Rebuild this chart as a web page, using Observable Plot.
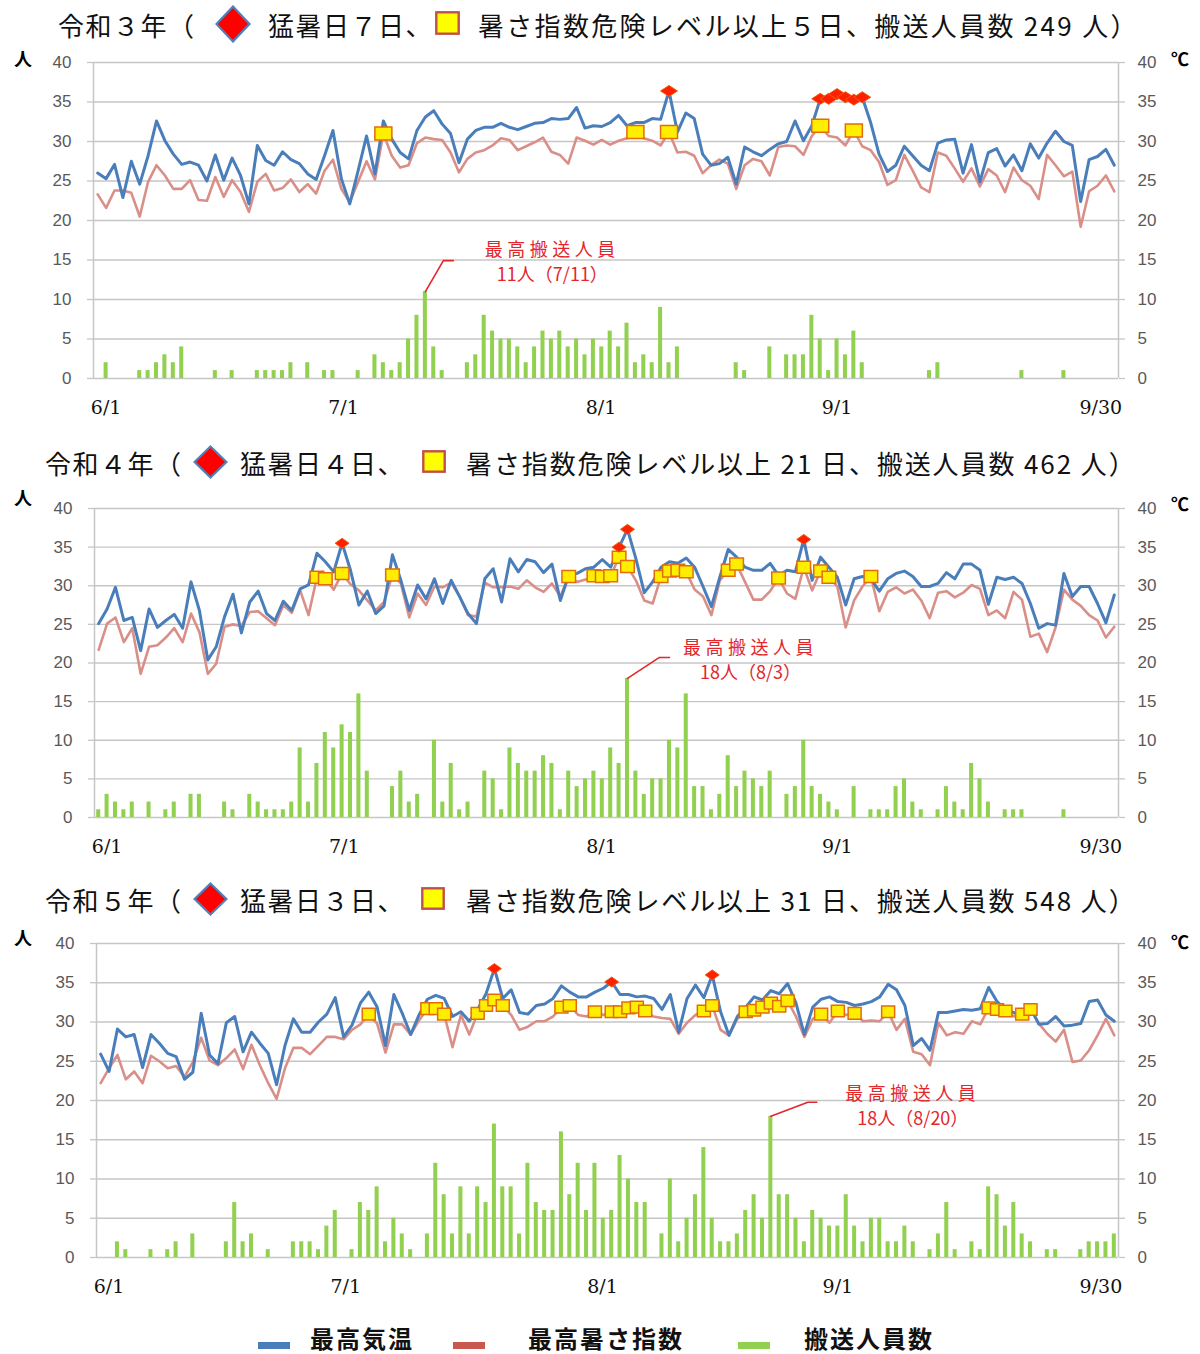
<!DOCTYPE html>
<html><head><meta charset="utf-8">
<script src="https://cdn.jsdelivr.net/npm/d3@7"></script>
<script src="https://cdn.jsdelivr.net/npm/@observablehq/plot@0.6"></script>
<style>
body{margin:0;background:#fff;}
#root{position:relative;width:1200px;height:1354px;overflow:hidden;font-family:"Noto Sans CJK JP",sans-serif;background:#fff;}
.abs{position:absolute;white-space:nowrap;line-height:1;}
.ttl{font-size:26px;letter-spacing:1.5px;color:#111;}
.unit{font-size:18px;font-weight:700;color:#000;}
.leg{font-size:24px;font-weight:700;color:#111;}
.sw{position:absolute;width:32px;height:7px;}
svg.chart{position:absolute;left:0;}
</style></head><body><div id="root"></div>
<script>
// ---------- data ----------
const days = d3.range(122); // 6/1 .. 9/30
const yTicks = [0,5,10,15,20,25,30,35,40];
const xTickLabels = ["6/1","7/1","8/1","9/1","9/30"];
const xTickPos = [1, 29.25, 59.9, 88, 119.4];

// 令和3年
const temp3 = [26.0,25.3,27.1,22.9,27.5,24.6,28.2,32.6,30.1,28.4,
27.1,27.4,27.0,25.0,28.3,25.1,27.9,25.7,22.1,29.5,
27.6,27.0,28.7,27.7,27.2,25.9,25.2,28.2,31.4,25.3,
22.1,26.3,30.7,25.9,32.6,30.3,28.6,27.8,31.4,33.1,
33.9,32.2,31.0,27.3,30.3,31.4,31.8,31.8,32.3,31.8,
31.5,31.9,32.3,32.4,32.9,32.8,32.9,34.3,31.7,32.0,
31.9,32.4,33.3,32.0,32.4,32.4,32.9,32.8,36.4,31.2,
33.6,32.9,28.4,27.0,27.2,28.0,24.6,29.3,28.7,28.2,
29.0,29.7,30.0,32.6,30.1,32.0,35.4,35.4,36.0,35.6,
35.3,35.6,32.4,28.4,26.2,27.0,29.4,28.2,27.0,26.3,
29.8,30.2,30.3,26.0,29.6,24.9,28.6,29.1,26.9,28.3,
26.3,29.7,27.9,29.8,31.3,30.0,29.5,22.4,27.7,28.1,
29.0,27.0];
const wbgt3 = [23.3,21.6,23.8,23.8,23.5,20.5,24.9,27.0,25.7,24.0,
24.0,25.1,22.6,22.5,25.5,23.0,25.1,23.6,21.1,24.9,
25.9,23.8,24.1,25.2,23.6,24.6,23.4,26.3,27.7,24.0,
22.3,24.9,27.5,25.2,31.0,28.2,26.7,27.0,29.8,30.5,
30.3,30.2,28.6,26.1,27.8,28.6,28.9,29.5,30.4,30.2,
28.9,29.4,29.9,30.5,28.7,28.3,27.2,30.5,30.1,29.6,
30.2,29.6,30.1,30.4,31.2,30.4,30.1,29.5,31.2,28.6,
28.7,28.2,26.0,27.0,27.7,27.2,24.0,27.0,27.8,27.5,
25.7,29.3,29.5,29.4,28.3,30.7,32.0,30.7,30.5,29.5,
31.4,29.4,28.9,27.4,24.5,25.1,28.3,26.3,24.2,23.6,
28.6,28.2,26.6,24.9,26.6,24.3,26.5,25.7,23.6,26.7,
25.1,24.4,22.7,28.3,27.0,25.6,26.2,19.2,23.7,24.4,
25.7,23.7];
const count3 = [0,2,0,0,0,1,1,2,3,2,
4,0,0,0,1,0,1,0,0,1,
1,1,1,2,0,2,0,1,1,0,
0,1,0,3,2,1,2,5,8,11,
4,1,0,0,2,3,8,6,5,5,
4,2,4,6,5,6,4,5,3,5,
4,6,4,7,2,3,2,9,2,4,
0,0,0,0,0,0,2,1,0,0,
4,0,3,3,3,8,5,1,5,3,
6,2,0,0,0,0,0,0,0,1,
2,0,0,0,0,0,0,0,0,0,
1,0,0,0,0,1,0,0,0,0,
0,0];
const hotDays3 = [68,86,87,88,89,90,91];
const dangerDays3 = [34,64,68,86,90];

// 令和4年
const temp4 = [25.1,27.0,29.8,25.5,25.9,21.6,27.0,24.6,25.5,26.3,
24.5,30.5,26.8,20.4,22.1,26.0,28.9,23.9,27.9,29.3,
26.4,25.5,28.0,26.8,29.6,30.1,34.2,33.1,31.8,35.5,
32.0,27.5,29.3,26.4,27.4,34.0,30.7,26.8,30.1,28.3,
30.9,27.7,30.7,28.6,26.4,25.1,30.9,32.2,27.9,33.5,
31.8,33.4,33.1,31.7,32.8,28.1,31.4,31.6,32.2,32.4,
33.4,32.4,35.0,37.3,33.5,29.1,30.5,32.4,33.1,32.9,
33.6,32.4,29.9,27.3,31.1,34.7,33.7,32.4,32.0,32.0,
32.9,31.3,32.0,31.8,36.0,30.7,33.7,32.4,31.1,27.5,
30.9,31.2,30.9,29.3,30.9,31.6,31.9,31.2,29.9,29.9,
30.3,31.7,30.9,32.8,32.8,32.0,27.6,31.1,30.8,31.1,
30.3,27.7,24.5,25.1,24.9,31.6,28.6,29.9,29.9,27.7,
25.2,28.8];
const wbgt4 = [21.7,25.1,25.9,22.7,24.5,18.6,22.1,22.3,23.3,24.5,
22.7,26.4,24.0,18.6,19.9,24.7,25.0,24.8,26.6,26.7,
25.8,24.9,27.5,26.5,29.4,26.2,31.1,30.9,29.5,31.6,
30.2,29.4,28.1,26.8,27.9,31.4,30.3,25.9,29.0,27.5,
29.9,29.8,30.4,28.6,26.2,26.0,30.4,29.8,29.8,29.9,
29.6,30.7,29.8,29.2,30.3,28.6,31.2,30.5,30.8,31.3,
31.2,31.3,33.7,32.5,30.7,28.1,27.7,31.2,31.9,32.0,
31.8,29.5,28.6,26.2,30.7,32.0,32.8,30.5,28.2,28.2,
29.3,31.0,29.0,28.3,32.4,29.4,31.9,31.1,29.9,24.6,
28.1,29.9,31.2,26.7,29.2,29.8,29.0,29.5,28.1,25.8,
29.1,29.3,28.5,29.1,30.1,29.6,26.2,26.8,25.8,29.2,
28.2,23.4,23.8,21.4,24.6,29.5,28.2,27.4,26.2,25.5,
23.3,24.7];
const count4 = [1,3,2,1,2,0,2,0,1,2,
0,3,3,0,0,2,1,0,3,2,
1,1,1,2,9,2,7,11,9,12,
11,16,6,0,0,4,6,2,3,0,
10,2,7,1,2,0,6,5,1,9,
7,6,6,8,7,1,6,4,5,6,
5,9,7,18,6,3,5,5,10,9,
16,4,4,1,3,8,4,6,5,4,
6,0,3,4,10,4,3,2,1,0,
4,0,1,1,1,4,5,2,1,0,
1,4,2,1,7,5,2,0,1,1,
1,0,0,0,0,1,0,0,0,0,
0,0];
const hotDays4 = [29,62,63,84];
const dangerDays4 = [26,27,29,35,56,59,60,61,62,63,67,68,69,70,75,76,81,84,86,87,92];

// 令和5年
const temp5 = [25.9,23.7,29.1,28.1,28.4,24.2,28.4,27.3,26.0,25.6,
22.7,23.6,31.1,25.8,24.7,29.9,30.7,26.2,28.7,27.3,
26.0,22.0,27.0,30.4,28.7,28.7,30.0,31.0,33.1,28.1,
29.6,32.4,33.8,31.9,27.0,33.5,31.1,28.4,30.9,32.9,
33.4,33.0,30.7,31.3,30.1,31.6,33.6,36.8,33.0,34.1,
31.2,31.0,32.1,32.3,33.0,34.6,33.8,33.2,33.2,33.8,
34.3,35.1,33.5,33.5,33.2,33.3,33.0,31.6,33.5,28.7,
33.0,34.7,33.1,36.0,31.3,28.3,30.7,31.9,33.2,32.8,
34.0,33.6,34.9,32.4,28.4,31.9,32.9,33.2,32.6,32.5,
32.1,32.3,32.6,33.2,34.8,34.1,32.1,27.0,27.9,26.4,
31.2,31.2,31.4,31.6,31.5,31.7,34.4,32.6,31.6,31.2,
30.7,31.8,29.7,29.8,30.7,29.5,29.6,29.8,32.6,32.8,
30.9,30.1];
const wbgt5 = [22.2,24.1,25.8,22.7,23.7,22.2,25.7,25.0,24.1,24.4,
23.0,24.9,28.0,25.1,24.5,25.4,26.5,24.0,27.1,24.5,
22.2,20.2,24.1,26.7,26.7,25.9,27.0,28.1,28.1,27.8,
29.0,29.7,31.0,29.8,26.1,29.7,29.7,28.4,30.2,31.7,
31.7,31.0,26.8,30.9,28.4,31.1,32.1,32.8,32.1,30.9,
29.0,29.4,30.1,30.1,30.7,31.9,32.1,30.9,30.7,31.3,
30.9,31.3,31.3,31.8,31.9,31.4,30.7,30.5,30.4,28.5,
29.9,30.9,31.4,32.1,29.0,28.3,30.4,31.3,31.5,31.9,
32.4,32.0,32.7,30.7,28.1,30.4,31.0,29.9,31.4,30.9,
31.1,30.1,30.2,30.1,31.3,29.0,30.4,26.2,25.9,24.5,
29.9,28.3,28.7,28.5,30.1,29.7,31.8,31.6,31.4,30.7,
31.0,31.6,29.8,28.5,27.5,29.0,24.9,25.1,26.4,28.3,
30.4,28.3];
const count5 = [0,0,2,1,0,0,1,0,1,2,
0,3,0,0,0,2,7,2,3,0,
1,0,0,2,2,2,1,4,6,0,
1,7,6,9,2,5,3,1,0,3,
12,8,3,9,3,9,7,17,9,9,
3,12,7,6,6,16,8,12,6,12,
5,6,13,10,7,7,0,3,10,2,
5,8,14,5,2,2,3,6,8,5,
18,8,8,5,2,6,5,4,4,8,
4,2,5,5,2,2,4,2,0,1,
3,7,1,0,2,1,9,8,4,7,
3,2,0,1,1,0,0,1,2,2,
2,3];
const hotDays5 = [47,61,73];
const dangerDays5 = [32,39,40,41,45,46,47,48,55,56,59,61,62,63,64,65,72,73,77,78,79,80,81,82,86,88,90,94,106,107,108,110,111];

const titlesYear = ["令和３年（","令和４年（","令和５年（"];
const titlesHot = ["猛暑日７日、","猛暑日４日、","猛暑日３日、"];
const titlesRest = ["暑さ指数危険レベル以上５日、搬送人員数 249 人）",
  "暑さ指数危険レベル以上 21 日、搬送人員数 462 人）",
  "暑さ指数危険レベル以上 31 日、搬送人員数 548 人）"];
const notes = [["最高搬送人員","11人（7/11）"],["最高搬送人員","18人（8/3）"],["最高搬送人員","18人（8/20）"]];
const legendNames = ["最高気温","最高暑さ指数","搬送人員数"];

// ---------- layout ----------
const colors = {temp:"#4a7ebb", wbgt:"#d98f88", bar:"#92d050", grid:"#c6c6c6", label:"#595959", note:"#e3262b"};
const layout = [
  {top:42, plotH:316, ml:93, titleY:25, tx:[58,233,268,447,478], restLS:2.3, dia:[36,38], sq:[25,24], mDia:[8.5,5.5], mSq:[8.5,6.5], lead:[18,31,28], noteD:[127,-31], unitY:[58,58]},
  {top:488, plotH:309, ml:94, titleY:463, tx:[45,210,240,434,466], restLS:1.9, dia:[35,34], sq:[24,23], mDia:[7,5], mSq:[6.8,6], lead:[32,21,42], noteD:[123,-20], unitY:[497,503]},
  {top:923, plotH:314, ml:96, titleY:900, tx:[45,210,240,433,466], restLS:1.9, dia:[35,34], sq:[24,23], mDia:[7,5], mSq:[6.5,5.8], lead:[37,14,46], noteD:[142,-11.5], unitY:[937,941]}
];
const series = [
  {temp:temp3, wbgt:wbgt3, count:count3, hot:hotDays3, danger:dangerDays3},
  {temp:temp4, wbgt:wbgt4, count:count4, hot:hotDays4, danger:dangerDays4},
  {temp:temp5, wbgt:wbgt5, count:count5, hot:hotDays5, danger:dangerDays5}
];

const root = document.getElementById("root");
function addText(str, left, cy, cls, size){
  const d = document.createElement("div");
  d.className = "abs " + cls; d.textContent = str;
  d.style.left = left + "px"; d.style.top = (cy - size/2) + "px";
  root.appendChild(d); return d;
}
function addSvgIcon(cx, cy, w, h, inner){
  const d = document.createElement("div");
  d.className = "abs";
  d.style.left = (cx - w/2) + "px"; d.style.top = (cy - h/2) + "px";
  d.innerHTML = `<svg width="${w}" height="${h}" viewBox="0 0 ${w} ${h}">${inner}</svg>`;
  root.appendChild(d);
}
function diamondSymbol(hw, hh){ return {draw(ctx){ ctx.moveTo(0,-hh); ctx.lineTo(hw,0); ctx.lineTo(0,hh); ctx.lineTo(-hw,0); ctx.closePath(); }}; }
function rectSymbol(hw, hh){ return {draw(ctx){ ctx.moveTo(-hw,-hh); ctx.lineTo(hw,-hh); ctx.lineTo(hw,hh); ctx.lineTo(-hw,hh); ctx.closePath(); }}; }

layout.forEach((L, k) => {
  const S = series[k];
  // title
  addText(titlesYear[k], L.tx[0], L.titleY, "ttl", 26);
  const [dw, dh] = L.dia;
  addSvgIcon(L.tx[1], L.titleY - 1, dw, dh,
    `<polygon points="${dw/2},1.5 ${dw-1.5},${dh/2} ${dw/2},${dh-1.5} 1.5,${dh/2}" fill="#ff0000" stroke="#4f81bd" stroke-width="2.2"/>`);
  addText(titlesHot[k], L.tx[2], L.titleY, "ttl", 26);
  const [sw, sh] = L.sq;
  addSvgIcon(L.tx[3], L.titleY - 2, sw, sh,
    `<rect x="1.3" y="1.3" width="${sw-2.6}" height="${sh-2.6}" fill="#ffff00" stroke="#c0504d" stroke-width="2.4"/>`);
  const rest = addText(titlesRest[k], L.tx[4], L.titleY, "ttl", 26);
  rest.style.letterSpacing = L.restLS + "px";
  addText("人", 14, L.unitY[0], "unit", 18);
  addText("℃", 1171, L.unitY[1], "unit", 18);

  // chart
  const mt = 20, mb = 50, mr = 82;
  const plotW = 1200 - L.ml - mr;
  const step = plotW / 122, ppu = L.plotH / 40;
  const rows = days.map(i => ({i, t: S.temp[i], w: S.wbgt[i], n: S.count[i]}));
  const mi = d3.maxIndex(S.count), mv = S.count[mi];
  const leader = [[0,0],[L.lead[0],L.lead[1]],[L.lead[2],L.lead[1]]]
    .map(([dx,dy]) => ({x: mi + dx/step, y: mv + dy/ppu}));
  const axisOpts = {ticks: yTicks, tickSize: 6, stroke: colors.grid, strokeWidth: 1.3,
    fill: colors.label, fontSize: 17, label: null, tickFormat: d => String(d)};

  const chart = Plot.plot({
    width: 1200, height: mt + L.plotH + mb,
    marginLeft: L.ml, marginRight: mr, marginTop: mt, marginBottom: mb,
    x: {domain: [-0.5, 121.5], axis: null},
    y: {domain: [0, 40]},
    style: {fontFamily: "'Liberation Sans', Arial, sans-serif", fontSize: "17px", background: "none", overflow: "visible"},
    marks: [
      Plot.ruleY(yTicks, {stroke: colors.grid, strokeWidth: 1.3}),
      Plot.ruleX([-0.5, 121.5], {stroke: colors.grid, strokeWidth: 1.5}),
      Plot.axisY({anchor: "left", tickPadding: 16, ...axisOpts}),
      Plot.axisY({anchor: "right", tickPadding: 13, ...axisOpts}),
      Plot.rectY(rows.filter(d => d.n > 0), {x1: d => d.i - 0.24, x2: d => d.i + 0.24, y1: 0, y2: "n", fill: colors.bar}),
      Plot.line(rows, {x: "i", y: "w", stroke: colors.wbgt, strokeWidth: 2.6, strokeLinejoin: "round"}),
      Plot.line(rows, {x: "i", y: "t", stroke: colors.temp, strokeWidth: 3, strokeLinejoin: "round"}),
      Plot.dot(S.danger.map(i => ({i, v: S.wbgt[i]})), {x: "i", y: "v", symbol: rectSymbol(L.mSq[0], L.mSq[1]),
        fill: "#ffee00", stroke: "#e36c09", strokeWidth: 1.5}),
      Plot.dot(S.hot.map(i => ({i, v: S.temp[i]})), {x: "i", y: "v", symbol: diamondSymbol(L.mDia[0], L.mDia[1]),
        fill: "#ff2000", stroke: "#f05a10", strokeWidth: 1}),
      Plot.line(leader, {x: "x", y: "y", stroke: colors.note, strokeWidth: 1.6}),
      Plot.text([{i: mi, v: mv, label: notes[k].join("\n")}], {x: "i", y: "v", text: "label",
        dx: L.noteD[0], dy: L.noteD[1], fill: colors.note, fontSize: 18, lineHeight: 1.4,
        fontFamily: "'Noto Sans CJK JP', sans-serif"}),
      Plot.text(xTickPos, {x: d => d, text: (d, i) => xTickLabels[i], frameAnchor: "bottom", dy: 35,
        fill: "#111", fontSize: 19, fontFamily: "'DejaVu Serif', serif"})
    ]
  });
  chart.classList.add("chart");
  chart.style.top = L.top + "px";
  root.appendChild(chart);
  d3.select(chart).selectAll("tspan").filter(function(){ return this.textContent === notes[k][0]; })
    .attr("letter-spacing", "4.5px");
});

// legend
const legColors = [colors.temp, "#c9594f", colors.bar];
const legSw = [258, 453, 738], legTx = [310, 528, 804];
legendNames.forEach((name, j) => {
  const s = document.createElement("div");
  s.className = "sw"; s.style.left = legSw[j] + "px"; s.style.top = "1342px"; s.style.background = legColors[j];
  root.appendChild(s);
  const t = addText(name, legTx[j], 1338, "leg", 24);
  t.style.letterSpacing = "2px";
});
</script></body></html>
